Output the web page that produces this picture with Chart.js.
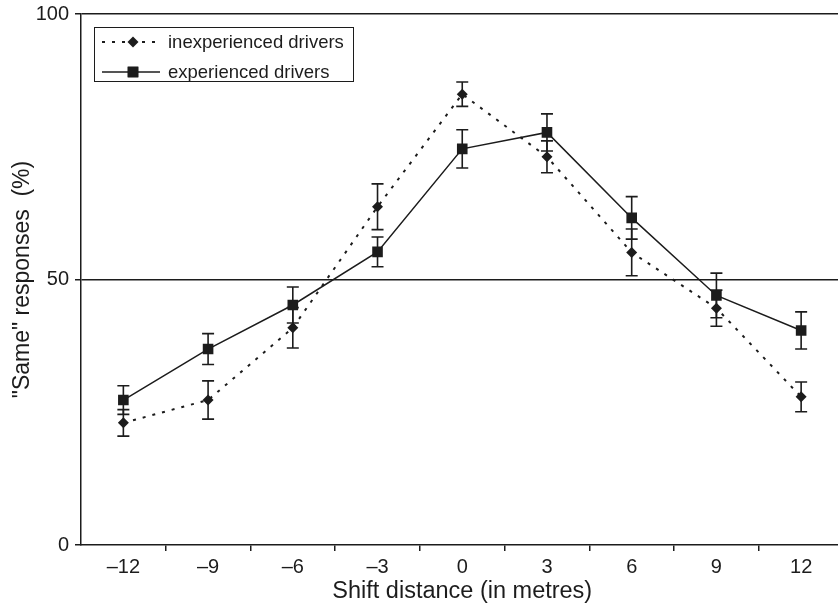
<!DOCTYPE html>
<html>
<head>
<meta charset="utf-8">
<script src="https://cdn.jsdelivr.net/npm/chart.js@4/dist/chart.umd.min.js"></script>
<style>
  html, body { margin: 0; padding: 0; background: #fff; overflow: hidden; width: 838px; height: 605px; }
  canvas { display: block; }
</style>
</head>
<body>
<canvas id="chart" width="851" height="605" style="width:851px;height:605px"></canvas>
<script>
// Shift distances (metres)
var shifts = [-12, -9, -6, -3, 0, 3, 6, 9, 12];

// "Same" responses (%)
var inexperienced = [23.0, 27.3, 40.9, 63.7, 84.9, 73.1, 55.1, 44.6, 27.9];
var inexperiencedErr = [2.5, 3.6, 3.8, 4.3, 2.3, 3.0, 4.4, 3.4, 2.8];
var experienced = [27.3, 36.9, 45.2, 55.2, 74.6, 77.7, 61.6, 47.0, 40.4];
var experiencedErr = [2.7, 2.9, 3.4, 2.8, 3.6, 3.5, 4.0, 4.2, 3.5];

var yTicks = [0, 50, 100];

var ink = '#1c1c1c';
var fontFamily = '"Liberation Sans", Arial, Helvetica, sans-serif';

function toPoints(values) {
  return shifts.map(function (s, i) { return { x: s, y: values[i] }; });
}

// vertical error bars with caps, drawn under the markers
var errorBars = {
  id: 'errorBars',
  beforeDatasetsDraw: function (chart) {
    var ctx = chart.ctx;
    var xs = chart.scales.x, ys = chart.scales.y;
    ctx.save();
    ctx.strokeStyle = ink;
    ctx.lineWidth = 1.6;
    chart.data.datasets.forEach(function (ds) {
      ds.data.forEach(function (p, i) {
        var e = ds.errors[i];
        var px = xs.getPixelForValue(p.x);
        var top = ys.getPixelForValue(p.y + e);
        var bot = ys.getPixelForValue(p.y - e);
        ctx.beginPath();
        ctx.moveTo(px, top); ctx.lineTo(px, bot);
        ctx.moveTo(px - 6, top); ctx.lineTo(px + 6, top);
        ctx.moveTo(px - 6, bot); ctx.lineTo(px + 6, bot);
        ctx.stroke();
      });
    });
    ctx.restore();
  }
};

// boxed legend with line + marker samples
var boxLegend = {
  id: 'boxLegend',
  afterDraw: function (chart) {
    var ctx = chart.ctx;
    var area = chart.chartArea;
    var bx = area.left + 13, by = area.top + 13, bw = 259, bh = 54;
    ctx.save();
    ctx.fillStyle = '#fff';
    ctx.fillRect(bx, by, bw, bh);
    ctx.strokeStyle = ink;
    ctx.lineWidth = 1;
    ctx.strokeRect(bx + 0.5, by + 0.5, bw, bh);
    ctx.font = '18.5px ' + fontFamily;
    ctx.textBaseline = 'middle';
    chart.data.datasets.forEach(function (ds, i) {
      var y = by + 15 + i * 30;
      ctx.strokeStyle = ds.borderColor;
      ctx.lineWidth = ds.borderWidth;
      ctx.setLineDash(ds.borderDash || []);
      ctx.beginPath();
      ctx.moveTo(bx + 8, y); ctx.lineTo(bx + 66, y);
      ctx.stroke();
      ctx.setLineDash([]);
      Chart.helpers.drawPoint(ctx, {
        pointStyle: ds.pointStyle, radius: ds.pointRadius, borderWidth: 0
      }, bx + 39, y);
      ctx.fillStyle = ink;
      ctx.fill();
      ctx.fillText(ds.label, bx + 74, y + 1);
    });
    ctx.restore();
  }
};

new Chart(document.getElementById('chart'), {
  type: 'line',
  data: {
    datasets: [
      {
        label: 'inexperienced drivers',
        data: toPoints(inexperienced),
        errors: inexperiencedErr,
        borderColor: ink,
        borderWidth: 2,
        borderDash: [3, 7],
        pointStyle: 'rectRot',
        pointRadius: 5.5,
        pointBackgroundColor: ink,
        pointBorderWidth: 0,
        tension: 0
      },
      {
        label: 'experienced drivers',
        data: toPoints(experienced),
        errors: experiencedErr,
        borderColor: ink,
        borderWidth: 1.5,
        pointStyle: 'rect',
        pointRadius: 7.5,
        pointBackgroundColor: ink,
        pointBorderWidth: 0,
        tension: 0
      }
    ]
  },
  options: {
    responsive: false,
    devicePixelRatio: 1,
    animation: false,
    layout: { padding: { top: 14, right: 0, left: 0, bottom: 0 } },
    plugins: { legend: { display: false }, tooltip: { enabled: false } },
    scales: {
      x: {
        type: 'linear',
        min: -13.5,
        max: 13.5,
        afterBuildTicks: function (scale) {
          var t = [];
          for (var v = -12; v <= 12; v += 1.5) t.push({ value: v });
          scale.ticks = t;
        },
        afterFit: function (scale) { scale.height = 60; },
        border: { display: true, color: ink, width: 1.5 },
        grid: {
          drawOnChartArea: false,
          tickLength: 6,
          lineWidth: 1.5,
          tickColor: function (c) {
            return (c.tick && c.tick.value % 3 !== 0) ? ink : 'rgba(0,0,0,0)';
          }
        },
        ticks: {
          autoSkip: false,
          maxRotation: 0,
          padding: 4,
          color: ink,
          font: { family: fontFamily, size: 20 },
          callback: function (v) {
            if (v % 3 !== 0) return '';
            return v < 0 ? '\u2013' + Math.abs(v) : String(v);
          }
        },
        title: {
          display: true,
          text: 'Shift distance (in metres)',
          color: ink,
          font: { family: fontFamily, size: 23.5 },
          padding: { top: 0, bottom: -1 }
        }
      },
      y: {
        min: 0,
        max: 100,
        afterBuildTicks: function (scale) {
          scale.ticks = yTicks.map(function (v) { return { value: v }; });
        },
        afterFit: function (scale) {
          scale.width = 81;
          scale.paddingTop = 0;
          scale.paddingBottom = 0;
        },
        border: { display: true, color: ink, width: 1.5 },
        grid: {
          color: function (c) { return (c.tick && c.tick.value === 0) ? 'rgba(0,0,0,0)' : ink; },
          tickColor: ink,
          lineWidth: 1.5,
          tickLength: 6
        },
        ticks: {
          padding: 6,
          color: ink,
          font: { family: fontFamily, size: 20 }
        },
        title: {
          display: true,
          text: '"Same" responses  (%)',
          color: ink,
          font: { family: fontFamily, size: 23 },
          padding: { top: 9, bottom: 0 }
        }
      }
    }
  },
  plugins: [errorBars, boxLegend]
});
</script>
</body>
</html>
